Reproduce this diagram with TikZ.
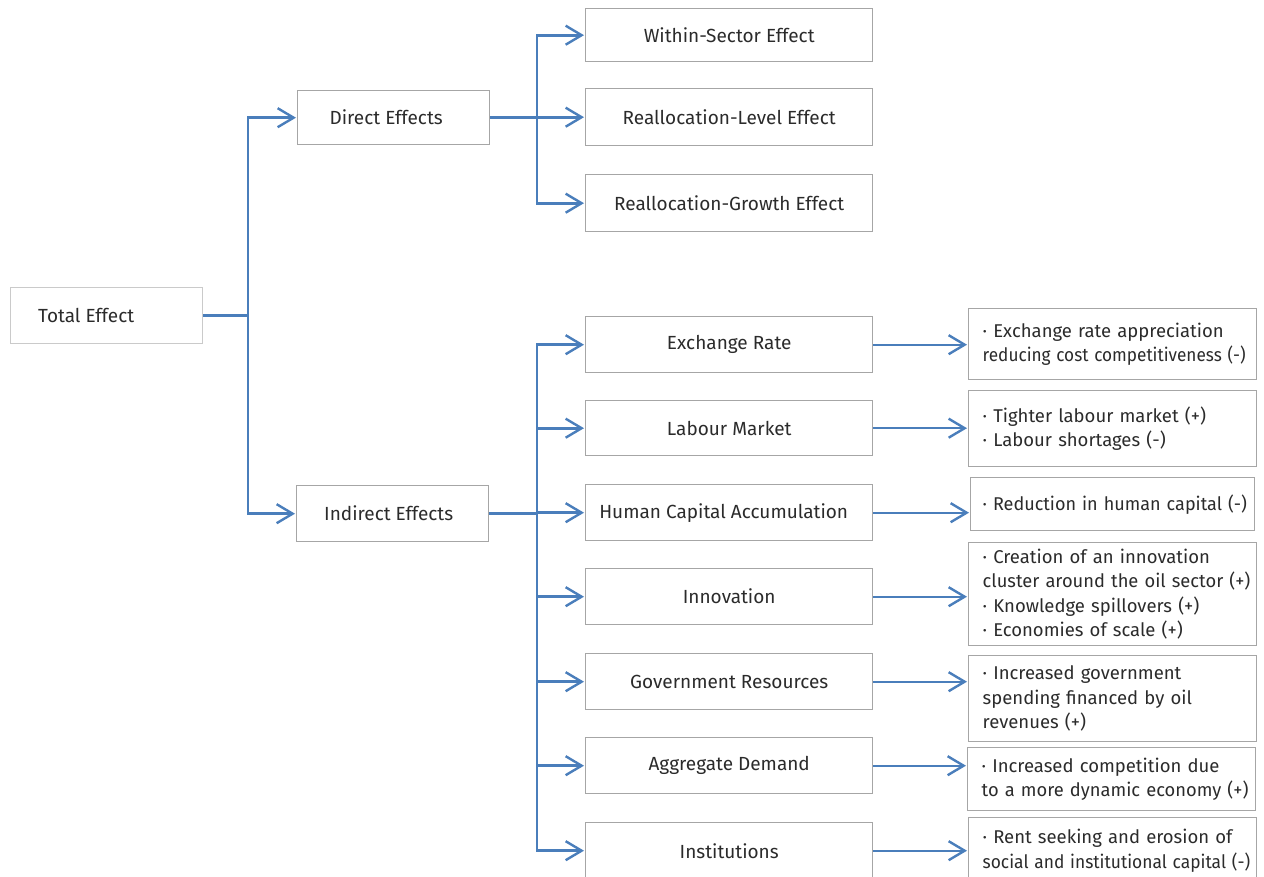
\documentclass[tikz,border=0pt]{standalone}
\usepackage{fontspec}
\setmainfont{Fira Sans}
\usetikzlibrary{arrows.meta}
\definecolor{lnblue}{HTML}{4A7EBB}
\definecolor{bxgray}{HTML}{A6A6A6}
\definecolor{txt}{HTML}{2B2B2B}
\tikzset{
  box/.style={draw=bxgray, line width=1.4pt, rectangle, anchor=north west, inner sep=0pt,
    text=txt, font=\fontsize{19}{24.5}\selectfont},
  midbox/.style={box, minimum width=287, align=center},
  rbox/.style={box, text width=260, inner xsep=14, align=left, font=\fontsize{18.5}{24.5}\selectfont},
  link/.style={draw=lnblue, line width=2.7pt},
  arr/.style={link, -{Straight Barb[length=16pt,width=19pt,line width=2.4pt]}, shorten >=1pt},
  sidearr/.style={arr, line width=2.3pt},
}
\begin{document}
\begin{tikzpicture}[x=1pt,y=-1pt]
\useasboundingbox (0,0) rectangle (1264,877);
\clip (0,0) rectangle (1264,877);
% left column
\node[box, draw=bxgray!60, minimum width=192, minimum height=56] (total) at (10,287) {\hspace*{-41pt}Total Effect};
\node[box, minimum width=192, minimum height=54] (direct) at (297,90) {\hspace*{-15pt}Direct Effects};
\node[box, minimum width=192, minimum height=56] (indirect) at (296,485) {\hspace*{-8pt}Indirect Effects};
% middle column
\node[midbox, minimum height=53] (within) at (585,8) {Within-Sector Effect};
\node[midbox, minimum height=57] (level) at (585,88) {Reallocation-Level Effect};
\node[midbox, minimum height=57] (growth) at (585,174) {Reallocation-Growth Effect};
\node[midbox, minimum height=56] (exch) at (585,316) {Exchange Rate};
\node[midbox, minimum height=55] (labour) at (585,400) {Labour Market};
\node[midbox, minimum height=56] (human) at (585,484) {\hspace*{-11pt}Human Capital Accumulation};
\node[midbox, minimum height=56] (innov) at (585,568) {Innovation};
\node[midbox, minimum height=56] (gov) at (585,653) {Government Resources};
\node[midbox, minimum height=56] (agg) at (585,737) {Aggregate Demand};
\node[midbox, minimum height=56] (inst) at (585,822) {Institutions};
% right column
\node[rbox, minimum height=71] (r1) at (968,308) {\mbox{· Exchange rate appreciation}\\\mbox{\scalebox{0.93}[1]{reducing cost competitiveness (-)}}};
\node[rbox, minimum height=76] (r2) at (968,390) {\mbox{· Tighter labour market (+)}\\\mbox{· Labour shortages (-)}};
\node[rbox, text width=260, inner xsep=12, minimum height=53] (r3) at (970,477) {\mbox{\scalebox{0.975}[1]{· Reduction in human capital (-)}}};
\node[rbox, minimum height=103] (r4) at (968,542) {\mbox{· Creation of an innovation}\\\mbox{\scalebox{0.99}[1]{cluster around the oil sector (+)}}\\\mbox{· Knowledge spillovers (+)}\\\mbox{· Economies of scale (+)}};
\node[rbox, minimum height=86] (r5) at (968,655) {\mbox{· Increased government}\\\mbox{spending financed by oil}\\\mbox{revenues (+)}};
\node[rbox, minimum height=63] (r6) at (967,747) {\mbox{· Increased competition due}\\\mbox{\scalebox{0.99}[1]{to a more dynamic economy (+)}}};
\node[rbox, minimum height=66] (r7) at (968,817) {\mbox{· Rent seeking and erosion of}\\\mbox{\scalebox{0.94}[1]{social and institutional capital (-)}}};
% bus positions
\coordinate (bt) at (248,0);
\coordinate (bd) at (537,0);
% connectors
\draw[arr] (total.east) -- (total.east -| bt) |- (direct.west);
\draw[arr] (total.east) -- (total.east -| bt) |- (indirect.west);
\foreach \c in {within,level,growth}
  \draw[arr] (direct.east) -- (direct.east -| bd) |- (\c.west);
\foreach \c in {exch,labour,human,innov,gov,agg,inst}
  \draw[arr] (indirect.east) -- (indirect.east -| bd) |- (\c.west);
\foreach \a/\b in {exch/r1,labour/r2,human/r3,innov/r4,gov/r5,agg/r6,inst/r7}
  \draw[sidearr] (\a.east) -- (\a.east -| \b.west);
\end{tikzpicture}
\end{document}
